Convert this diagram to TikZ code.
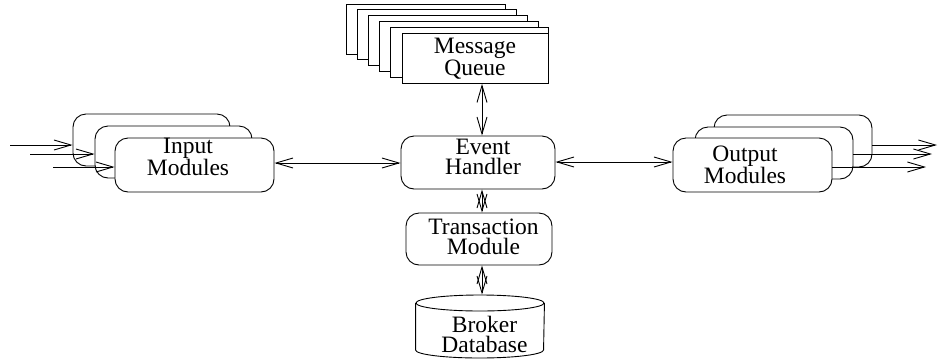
\documentclass[tikz,border=0pt]{standalone}
\usepackage{fontspec}
\setmainfont{Liberation Serif}
\usetikzlibrary{arrows.meta,shapes.geometric}

\tikzset{
  x=1pt, y=-1pt,
  every path/.style={line width=0.9pt},
  rbox/.style={draw, fill=white, rounded corners=13pt, inner sep=0pt,
    minimum width=#1},
  qbox/.style={draw, fill=white, inner sep=0pt, minimum height=50pt,
    minimum width=#1},
  lbl/.style={align=center, inner sep=0pt,
    font=\fontsize{23.5}{20}\selectfont},
  tip/.tip={Straight Barb[length=17pt,width=10pt]},
  arr/.style={-tip},
  dbl/.style={tip-tip},
}

\begin{document}
\begin{tikzpicture}
\useasboundingbox (0,0) rectangle (938,360);

% Message queue: a stack of sheets, back to front
\node[qbox=159pt, anchor=north west] (mq1) at (346,4)  {};
\node[qbox=159pt, anchor=north west] (mq2) at (357,9)  {};
\node[qbox=159pt, anchor=north west] (mq3) at (368,15) {};
\node[qbox=159pt, anchor=north west] (mq4) at (379,21) {};
\node[qbox=158pt, anchor=north west] (mq5) at (390,27) {};
\node[qbox=146pt, anchor=north west] (mq)  at (402,33) {};
\node[lbl] (mqt) at (475,59) {Message\\Queue};

% Input modules (three stacked boxes)
\node[rbox=157pt, minimum height=52pt] (inB) at (151.5,140) {};
\node[rbox=157pt, minimum height=52pt] (inM) at (173.5,152) {};
\node[rbox=159pt, minimum height=54pt] (inF) at (194.5,165) {};
\node[lbl] (inT) at (188,157) {Input\\Modules};

% Output modules (three stacked boxes)
\node[rbox=158pt, minimum height=52pt] (outB) at (793,141) {};
\node[rbox=158pt, minimum height=52pt] (outM) at (774,153) {};
\node[rbox=159pt, minimum height=54pt] (outF) at (752.5,165) {};
\node[lbl] (outT) at (745,165) {Output\\Modules};

% Event handler and transaction module
\node[rbox=154pt, minimum height=53pt] (eh) at (478,162.5) {};
\node[lbl] (ehT) at (483,157) {Event\\Handler};
\node[rbox=146pt, minimum height=52pt] (tm) at (479,239) {};
\node[lbl] (tmT) at (483.5,237) {Transaction\\Module};

% Broker database (cylinder)
\node[ellipse, draw, inner sep=0pt, minimum width=128pt, minimum height=16pt]
  (db) at (480,303) {};
\draw (db.west) -- ++(0,47) arc[start angle=180, end angle=360,
  x radius=64pt, y radius=8pt] -- (db.east);
\node[lbl] (dbT) at (484.5,334) {Broker\\Database};

% Vertical axis of the central connectors
\coordinate (axis) at (482,0);
\draw[dbl] (mq.south -| axis) -- (eh.north -| axis);
\draw[dbl] (eh.south -| axis) -- (tm.north -| axis);
\draw[dbl] (tm.south -| axis) -- (db.north -| axis);

% Horizontal connectors to the event handler
\coordinate (rowL) at (0,163);
\coordinate (rowR) at (0,162);
\draw[dbl] (inF.east |- rowL) -- (eh.west |- rowL);
\draw[dbl] (eh.east |- rowR) -- (outF.west |- rowR);

% Incoming streams
\coordinate (i1) at (10,145);
\coordinate (i2) at (30,154);
\coordinate (i3) at (53,167);
\draw[arr] (i1) -- (inB.west |- i1);
\draw[arr] (i2) -- (inM.west |- i2);
\draw[arr] (i3) -- (inF.west |- i3);

% Outgoing streams
\coordinate (o1) at (937,145);
\coordinate (o2) at (932,154);
\coordinate (o3) at (926,167);
\draw[arr] (outB.east |- o1) -- (o1);
\draw[arr] (outM.east |- o2) -- (o2);
\draw[arr] (outF.east |- o3) -- (o3);
\end{tikzpicture}
\end{document}
